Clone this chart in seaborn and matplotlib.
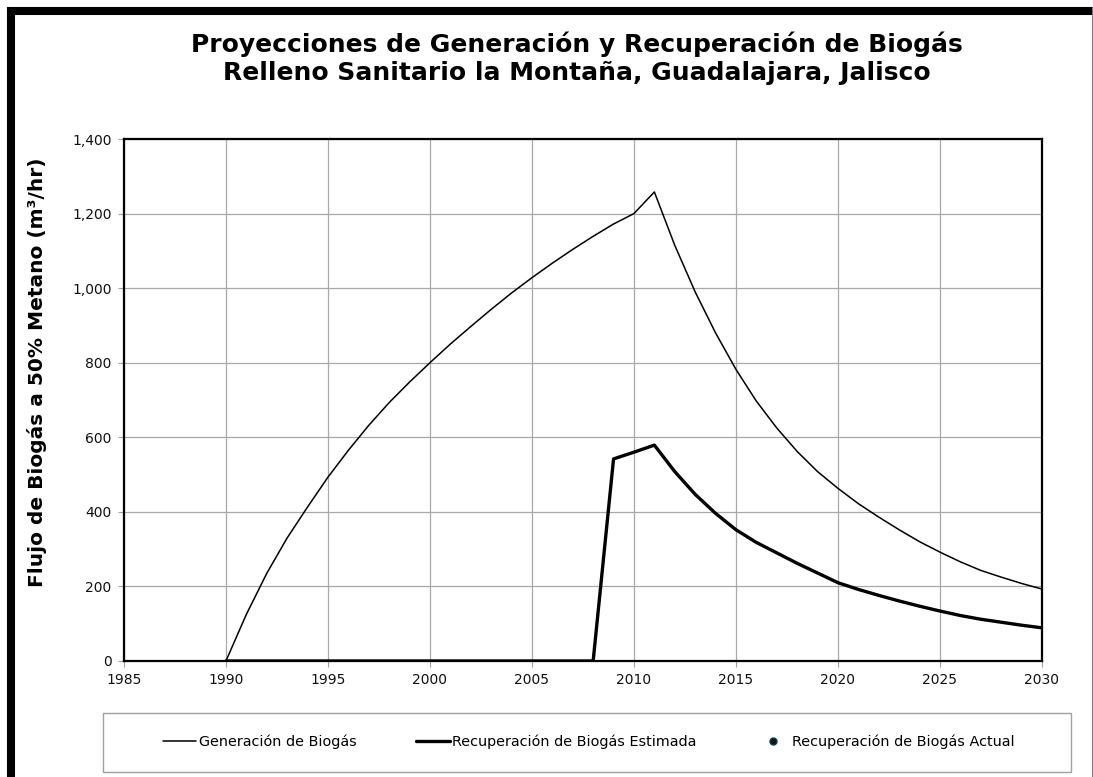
import pandas as pd
import matplotlib.pyplot as plt
import matplotlib.ticker as mticker
from matplotlib.lines import Line2D
from matplotlib.patches import Rectangle
import seaborn as sns

# values (m3/hr, 50% metano)
years = list(range(1990, 2031))
generacion = [0, 125, 235, 330, 413, 493, 565, 632, 693, 748, 800,
              850, 897, 943, 987, 1028, 1067, 1104, 1139, 1172, 1200,
              1258, 1115, 990, 880, 782, 697, 625, 562, 508, 463,
              422, 386, 352, 320, 292, 266, 243, 225, 208, 193]
recuperacion = [0, 0, 0, 0, 0, 0, 0, 0, 0, 0, 0,
                0, 0, 0, 0, 0, 0, 0, 0, 542, 560,
                579, 508, 447, 396, 352, 318, 290, 262, 236, 210,
                192, 176, 161, 147, 134, 122, 112, 104, 96, 89]
rec_actual_years = []
rec_actual = []

titulo = ("Proyecciones de Generación y Recuperación de Biogás\n"
          "Relleno Sanitario la Montaña, Guadalajara, Jalisco")
etiquetas = ["Generación de Biogás", "Recuperación de Biogás Estimada",
             "Recuperación de Biogás Actual"]

df = pd.DataFrame({"anio": years, "gen": generacion, "rec": recuperacion})

sns.set_style("white")
plt.rcParams['font.family'] = ['DejaVu Sans']
plt.rcParams['text.color'] = 'black'
plt.rcParams['axes.labelcolor'] = 'black'

fig = plt.figure(figsize=(10.93, 7.77), dpi=100)
ax = fig.add_axes([0.1134, 0.1493, 0.8399, 0.6718])

sns.lineplot(data=df, x="anio", y="gen", ax=ax, color="black", lw=1.1,
             label=etiquetas[0], legend=False)
sns.lineplot(data=df, x="anio", y="rec", ax=ax, color="black", lw=2.4,
             label=etiquetas[1], legend=False)
ax.plot(rec_actual_years, rec_actual, ls="none", marker="o", ms=5,
        color="#0a1418", mec="#0b3a4a", label=etiquetas[2])

ax.set_xlim(1985, 2030)
ax.set_ylim(0, 1400)
ax.set_xticks(range(1985, 2031, 5))
ax.set_yticks(range(0, 1401, 200))
ax.yaxis.set_major_formatter(mticker.StrMethodFormatter("{x:,.0f}"))
ax.grid(True, color="#a8a8a8", lw=0.9)
ax.set_axisbelow(True)
for s in ax.spines.values():
    s.set_color("black")
    s.set_linewidth(1.6)
    s.set_zorder(5)
ax.tick_params(axis="both", direction="out", length=4, width=0.8,
               color="#a0a0a0", labelsize=10, labelcolor="#111111", pad=5,
               left=True, bottom=True)
ax.set_xlabel("")
ax.set_ylabel("")
fig.text(37 / 1093, 1 - 372 / 777, "Flujo de Biogás a 50% Metano (m³/hr)",
         rotation=90, ha="center", va="center", fontsize=14.5,
         fontweight="bold")

fig.text(0.528, 0.925, titulo, ha="center", va="center", fontsize=18,
         fontweight="bold", linespacing=1.2)

# legend box below the plot
fig.add_artist(Rectangle((103 / 1093, 1 - 772 / 777), 968 / 1093, 59 / 777,
                         transform=fig.transFigure, fill=False,
                         ec="#a0a0a0", lw=1.0))
h, l = ax.get_legend_handles_labels()
fig.legend(h, l, loc="center", bbox_to_anchor=(589 / 1093, 1 - 742 / 777),
           ncol=3, frameon=False, fontsize=10.4, handlelength=2.3,
           handletextpad=0.2, columnspacing=4.1)

# page frame
fig.add_artist(Line2D([11 / 1093, 11 / 1093], [0, 1 - 7 / 777],
                      transform=fig.transFigure, color="black", lw=5.8,
                      solid_capstyle="butt"))
fig.add_artist(Line2D([7 / 1093, 1], [1 - 11 / 777, 1 - 11 / 777],
                      transform=fig.transFigure, color="black", lw=5.8,
                      solid_capstyle="butt"))
fig.add_artist(Line2D([1091.5 / 1093, 1091.5 / 1093], [0, 1 - 7 / 777],
                      transform=fig.transFigure, color="#808080", lw=0.8))

plt.savefig("out.png", dpi=100)
